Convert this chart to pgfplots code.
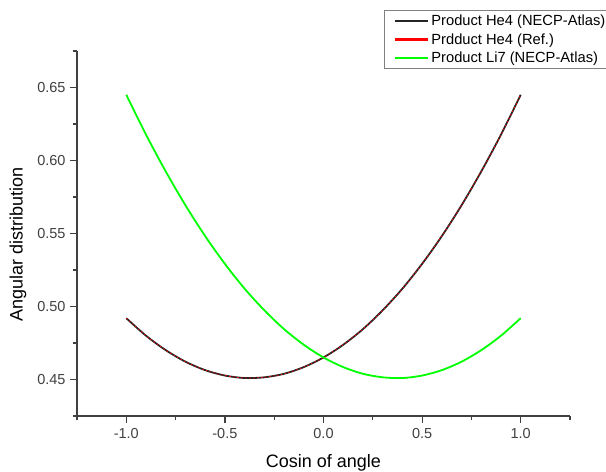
\documentclass[border=0pt]{standalone}
\usepackage{pgfplots}
\pgfplotsset{compat=1.18}
\usepackage{fontspec}
\setmainfont{Liberation Sans}
\definecolor{axgray}{RGB}{64,64,64}
\definecolor{pgreen}{RGB}{0,255,0}
\definecolor{pred}{RGB}{255,0,0}
\pgfplotsset{
  mylegimg/.style={legend image code/.code={\draw[#1, solid, line width=2.1bp] (0bp,0bp) -- (33bp,0bp);}},
}
\begin{document}
\begin{tikzpicture}
\useasboundingbox (-77bp,-56bp) rectangle (529bp,416bp);
\pgfplotstableread{
x y
-1.0 0.4920
-0.9 0.4800
-0.8 0.4701
-0.7 0.4622
-0.6 0.4564
-0.5 0.4527
-0.4 0.4510
-0.3 0.4515
-0.2 0.4539
-0.1 0.4585
0.0 0.4651
0.1 0.4738
0.2 0.4845
0.3 0.4974
0.4 0.5122
0.5 0.5292
0.6 0.5482
0.7 0.5693
0.8 0.5925
0.9 0.6177
1.0 0.6450
}\hefour
\pgfplotstableread{
x y
-1.0 0.4920
-0.9 0.4800
-0.8 0.4701
-0.7 0.4622
-0.6 0.4564
-0.5 0.4527
-0.4 0.4510
-0.3 0.4515
-0.2 0.4539
-0.1 0.4585
0.0 0.4651
0.1 0.4738
0.2 0.4845
0.3 0.4974
0.4 0.5122
0.5 0.5292
0.6 0.5482
0.7 0.5693
0.8 0.5925
0.9 0.6177
1.0 0.6450
}\hefourref
\pgfplotstableread{
x y
-1.0 0.6450
-0.9 0.6177
-0.8 0.5925
-0.7 0.5693
-0.6 0.5482
-0.5 0.5292
-0.4 0.5122
-0.3 0.4974
-0.2 0.4845
-0.1 0.4738
0.0 0.4651
0.1 0.4585
0.2 0.4539
0.3 0.4515
0.4 0.4510
0.5 0.4527
0.6 0.4564
0.7 0.4622
0.8 0.4701
0.9 0.4800
1.0 0.4920
}\liseven
\begin{axis}[
  at={(0,0)}, anchor=south west,
  scale only axis,
  width=493bp, height=365bp,
  xmin=-1.25, xmax=1.25,
  ymin=0.425, ymax=0.675,
  axis x line*=bottom, axis y line*=left,
  axis line style={axgray, line width=1.3bp, -},
  xtick={-1,-0.5,0,0.5,1},
  xticklabels={-1.0,-0.5,0.0,0.5,1.0},
  minor xtick={-1.25,-0.75,-0.25,0.25,0.75,1.25},
  ytick={0.45,0.50,0.55,0.60,0.65},
  yticklabels={0.45,0.50,0.55,0.60,0.65},
  minor ytick={0.425,0.475,0.525,0.575,0.625,0.675},
  tick align=outside,
  major tick length=7bp, minor tick length=4bp,
  every tick/.style={axgray, line width=1.2bp},
  tick label style={font=\fontsize{14.5bp}{17bp}\selectfont, text=axgray},
  xticklabel style={yshift=-2bp},
  yticklabel style={xshift=-1bp},
  /pgf/number format/assume math mode=true,
  xlabel={Cosin of angle},
  ylabel={Angular distribution},
  label style={font=\fontsize{18bp}{21bp}\selectfont},
  xlabel style={at={(axis description cs:0.5,-0.142)}, anchor=base},
  ylabel style={at={(axis description cs:-0.1197,0.47)}, anchor=center},
  legend style={at={(axis description cs:0.6227,1.1123)}, anchor=north west,
    draw=gray, line width=0.6bp, font=\fontsize{14.7bp}{16bp}\selectfont,
    inner xsep=10bp, inner ysep=3bp, row sep=2bp,
    /tikz/every even column/.append style={column sep=2bp}},
  legend cell align=left,
  mylegimg,
]
\addplot[black!85, line width=1.8bp, smooth] table {\hefour};
\addlegendentry{Product He4 (NECP-Atlas)}
\addplot[pred, line width=0.8bp, smooth, dash pattern=on 1.5bp off 2.5bp] table {\hefourref};
\addlegendentry{Prdduct He4 (Ref.)}
\addplot[pgreen, line width=1.8bp, smooth] table {\liseven};
\addlegendentry{Product Li7 (NECP-Atlas)}
\end{axis}
\end{tikzpicture}
\end{document}
